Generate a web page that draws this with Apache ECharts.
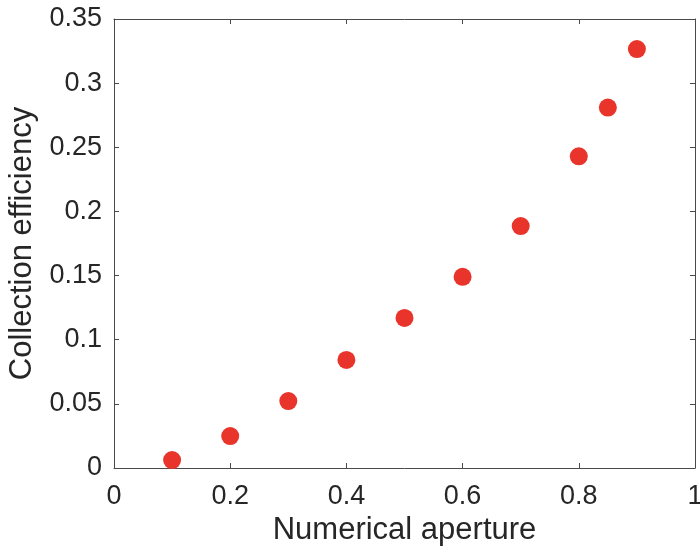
<!DOCTYPE html>
<html>
<head>
<meta charset="utf-8">
<script src="https://cdn.jsdelivr.net/npm/echarts@6/dist/echarts.min.js"></script>
<style>html,body{margin:0;padding:0;background:#fff;}#c{width:700px;height:552px;}</style>
</head>
<body>
<div id="c"></div>
<script>
const numericalAperture = [0.1, 0.2, 0.3, 0.4, 0.5, 0.6, 0.7, 0.8, 0.85, 0.9];
const collectionEfficiency = [0.0062, 0.0249, 0.0522, 0.0842, 0.117, 0.149, 0.1886, 0.243, 0.281, 0.3266];
const xTicks = [0, 0.2, 0.4, 0.6, 0.8, 1];
const yTicks = [0, 0.05, 0.1, 0.15, 0.2, 0.25, 0.3, 0.35];

const font = "'Liberation Sans', Arial, Helvetica, sans-serif";
const axisColor = '#4a4a4a';
const textColor = '#262626';
const data = numericalAperture.map((x, i) => [x, collectionEfficiency[i]]);
const fmt = v => String(parseFloat(v.toFixed(2)));

const chart = echarts.init(document.getElementById('c'), null, {renderer: 'canvas'});
const baseX = {
  type: 'value', min: xTicks[0], max: xTicks[xTicks.length - 1], interval: 0.2,
  axisLine: {show: true, onZero: false, lineStyle: {color: axisColor, width: 1}},
  axisTick: {show: true, inside: true, length: 5, lineStyle: {color: axisColor}},
  splitLine: {show: false}
};
const baseY = {
  type: 'value', min: yTicks[0], max: yTicks[yTicks.length - 1], interval: 0.05,
  axisLine: {show: true, onZero: false, lineStyle: {color: axisColor, width: 1}},
  axisTick: {show: true, inside: true, length: 5, lineStyle: {color: axisColor}},
  splitLine: {show: false}
};
chart.setOption({
  animation: false,
  backgroundColor: '#fff',
  grid: {left: 114, right: 5, top: 19, bottom: 84, containLabel: false, outerBoundsMode: 'none'},
  xAxis: [
    Object.assign({}, baseX, {
      position: 'bottom',
      name: 'Numerical aperture', nameLocation: 'middle', nameGap: 45,
      nameTextStyle: {fontFamily: font, fontSize: 31, color: textColor},
      axisLabel: {show: true, margin: 15, fontFamily: font, fontSize: 27, color: textColor, formatter: fmt}
    }),
    Object.assign({}, baseX, {position: 'top', axisLabel: {show: false}})
  ],
  yAxis: [
    Object.assign({}, baseY, {
      position: 'left',
      name: 'Collection efficiency', nameLocation: 'middle', nameGap: 76,
      nameTextStyle: {fontFamily: font, fontSize: 31, color: textColor},
      axisLabel: {show: true, margin: 12, fontFamily: font, fontSize: 27, color: textColor, formatter: fmt}
    }),
    Object.assign({}, baseY, {position: 'right', axisLabel: {show: false}})
  ],
  series: [{
    type: 'scatter',
    xAxisIndex: 0, yAxisIndex: 0,
    data: data,
    symbol: 'circle',
    symbolSize: 18,
    itemStyle: {color: '#e8342a', opacity: 1}
  }]
});
</script>
</body>
</html>
